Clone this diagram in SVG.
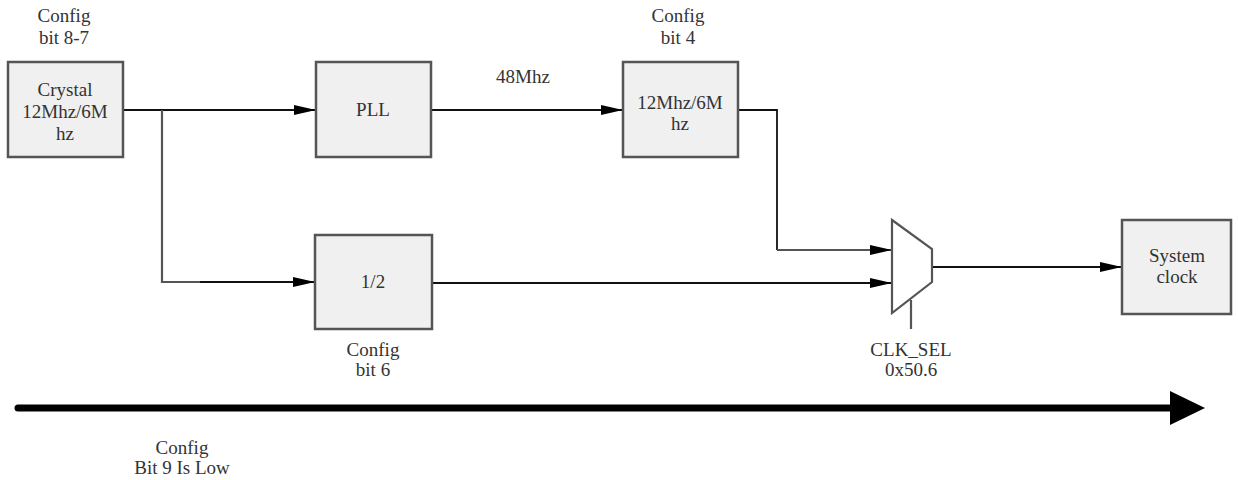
<svg xmlns="http://www.w3.org/2000/svg" width="1238" height="480" viewBox="0 0 1238 480">
<style>
.box{fill:#f0f0f0;stroke:#555;stroke-width:2.5}
.t{font-family:'Liberation Serif','DejaVu Serif','Times New Roman',serif;font-size:19px;fill:#333;text-anchor:middle}
.w{fill:none;stroke:#111;stroke-width:1.8}
.g{fill:none;stroke:#555;stroke-width:2.2}
</style>
<defs>
<marker id="ah" markerWidth="22" markerHeight="10" refX="22" refY="5" orient="auto" markerUnits="userSpaceOnUse">
<path d="M0,0 L22,5 L0,10 z" fill="#000"/>
</marker>
</defs>
<rect width="1238" height="480" fill="#fff"/>
<g id="connectors">
<path class="w" d="M123,110 H316" marker-end="url(#ah)"/>
<path class="g" d="M162,110 V282 H200"/>
<path class="w" d="M200,282 H315" marker-end="url(#ah)"/>
<path class="w" d="M431,110 H623" marker-end="url(#ah)"/>
<path class="w" d="M738,110 H777 V250"/>
<path class="g" d="M777,250 H892" marker-end="url(#ah)"/>
<path class="w" d="M432,283 H892" marker-end="url(#ah)"/>
<path class="w" d="M932,267 H1122" marker-end="url(#ah)"/>
<path class="g" d="M911,300 V329"/>
<path d="M18,408 H1172" stroke="#000" stroke-width="7" stroke-linecap="round"/>
<path d="M1170,391 L1205,408 L1170,425 z" fill="#000"/>
</g>
<g id="crystal">
<rect class="box" x="8" y="62" width="115" height="95"/>
<text class="t" x="65" y="96">Crystal</text>
<text class="t" x="65" y="118">12Mhz/6M</text>
<text class="t" x="65" y="140">hz</text>
<text class="t" x="64" y="22">Config</text>
<text class="t" x="64" y="44">bit 8-7</text>
</g>
<g id="pll">
<rect class="box" x="316" y="62" width="115" height="95"/>
<text class="t" x="373" y="116">PLL</text>
</g>
<g id="label48">
<text class="t" x="523" y="83">48Mhz</text>
</g>
<g id="div12">
<rect class="box" x="623" y="62" width="115" height="95"/>
<text class="t" x="680" y="109">12Mhz/6M</text>
<text class="t" x="680" y="130">hz</text>
<text class="t" x="678" y="22">Config</text>
<text class="t" x="678" y="44">bit 4</text>
</g>
<g id="half">
<rect class="box" x="315" y="235" width="117" height="94"/>
<text class="t" x="373" y="288">1/2</text>
<text class="t" x="373" y="356">Config</text>
<text class="t" x="373" y="376">bit 6</text>
</g>
<g id="mux">
<path d="M892,220 L932,249 L932,282 L892,313 z" fill="#fff" stroke="#555" stroke-width="2.2"/>
<text class="t" x="911" y="356">CLK_SEL</text>
<text class="t" x="911" y="376">0x50.6</text>
</g>
<g id="sysclk">
<rect class="box" x="1122" y="220" width="109" height="94"/>
<text class="t" x="1177" y="262">System</text>
<text class="t" x="1177" y="283">clock</text>
</g>
<g id="note">
<text class="t" x="182" y="454">Config</text>
<text class="t" x="182" y="474">Bit 9 Is Low</text>
</g>
</svg>
